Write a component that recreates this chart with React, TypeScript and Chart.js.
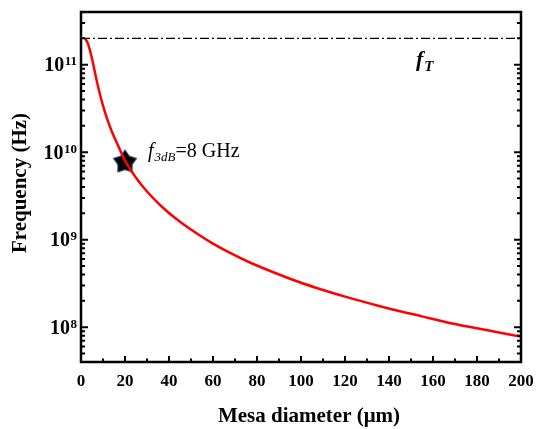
import React, { useEffect, useRef } from "react";
import { Chart, registerables } from "chart.js";
Chart.register(...registerables);

// Mesa diameter (µm) and 3 dB frequency (Hz)
const diameters = [1.8, 3, 4, 5, 6, 7, 8, 10, 12, 14, 17, 20, 25, 30, 37, 45, 53, 60, 68, 77, 90, 100, 110, 122, 135, 145, 155, 166, 180, 190, 200];
const frequencies = [2.0e11, 1.78e11, 1.48e11, 1.17e11, 9.0e10, 6.8e10, 5.3e10, 3.4e10, 2.35e10, 1.72e10, 1.17e10, 8.0e9, 5.1e9, 3.55e9, 2.35e9, 1.6e9, 1.16e9, 9.0e8, 7.0e8, 5.45e8, 4.0e8, 3.22e8, 2.66e8, 2.16e8, 1.76e8, 1.52e8, 1.33e8, 1.14e8, 9.7e7, 8.7e7, 7.8e7];
const fTLineX = [0, 200];
const fTValue = 2e11;
const starX = [20];
const starY = [7.9e9];
const xTickLabels = [0, 20, 40, 60, 80, 100, 120, 140, 160, 180, 200];
const xMinorTicks = [10, 30, 50, 70, 90, 110, 130, 150, 170, 190];
const yDecades = [8, 9, 10, 11];
const xRange = [0, 200];
const yRange = [4e7, 4e11];

const SERIF = '"Liberation Serif", "Times New Roman", serif';

function makeStar(r: number): HTMLCanvasElement {
  const size = Math.ceil(r * 2 + 4);
  const c = document.createElement("canvas");
  c.width = size;
  c.height = size;
  const ctx = c.getContext("2d")!;
  ctx.translate(size / 2, size / 2 + 1);
  ctx.beginPath();
  for (let i = 0; i < 10; i++) {
    const rad = i % 2 === 0 ? r : r * 0.62;
    const a = -Math.PI / 2 + (i * Math.PI) / 5;
    const px = rad * Math.cos(a);
    const py = rad * Math.sin(a);
    if (i === 0) ctx.moveTo(px, py);
    else ctx.lineTo(px, py);
  }
  ctx.closePath();
  ctx.fillStyle = "#000";
  ctx.fill();
  ctx.strokeStyle = "#2a4a6e";
  ctx.lineWidth = 1.2;
  ctx.stroke();
  return c;
}

const framePlugin = {
  id: "framePlugin",
  afterDraw(chart: any) {
    const { ctx, chartArea } = chart;
    const xs = chart.scales.x;
    const ys = chart.scales.y;
    const { left, right, top, bottom } = chartArea;
    ctx.save();
    ctx.strokeStyle = "#000";
    ctx.fillStyle = "#000";

    // ticks
    ctx.lineWidth = 2;
    ctx.beginPath();
    xTickLabels.forEach((v) => {
      const px = xs.getPixelForValue(v);
      ctx.moveTo(px, bottom);
      ctx.lineTo(px, bottom - 6);
    });
    xMinorTicks.forEach((v) => {
      const px = xs.getPixelForValue(v);
      ctx.moveTo(px, bottom);
      ctx.lineTo(px, bottom - 3.5);
    });
    for (let e = 7; e <= 11; e++) {
      for (let m = 1; m <= 9; m++) {
        const v = m * Math.pow(10, e);
        if (v < yRange[0] || v > yRange[1]) continue;
        const py = ys.getPixelForValue(v);
        const len = m === 1 ? 7 : 4;
        ctx.moveTo(left, py);
        ctx.lineTo(left + len, py);
        ctx.moveTo(right, py);
        ctx.lineTo(right - len, py);
      }
    }
    ctx.stroke();

    // frame
    ctx.lineWidth = 2.5;
    ctx.strokeRect(left, top, right - left, bottom - top);

    // x tick labels
    ctx.font = `bold 17px ${SERIF}`;
    ctx.textAlign = "center";
    ctx.textBaseline = "alphabetic";
    xTickLabels.forEach((v) => {
      ctx.fillText(String(v), xs.getPixelForValue(v), 386);
    });

    // y tick labels (10^n)
    yDecades.forEach((e) => {
      const py = ys.getPixelForValue(Math.pow(10, e));
      ctx.font = `bold 13px ${SERIF}`;
      const sup = String(e);
      const supW = ctx.measureText(sup).width;
      ctx.textAlign = "left";
      const endX = 77;
      ctx.fillText(sup, endX - supW, py + 0.5);
      ctx.font = `bold 20px ${SERIF}`;
      ctx.textAlign = "right";
      ctx.fillText("10", endX - supW - 0.5, py + 6.5);
    });

    // axis titles
    ctx.font = `bold 21px ${SERIF}`;
    ctx.textAlign = "center";
    ctx.fillText("Mesa diameter (\u03bcm)", 309, 422);
    ctx.save();
    ctx.translate(26, 183);
    ctx.rotate(-Math.PI / 2);
    ctx.fillText("Frequency (Hz)", 0, 0);
    ctx.restore();

    // annotations
    ctx.textAlign = "left";
    ctx.font = `bold italic 22px ${SERIF}`;
    ctx.fillText("f", 416, 66);
    const fw = ctx.measureText("f").width;
    ctx.font = `bold italic 15px ${SERIF}`;
    ctx.fillText("T", 416 + fw + 1, 71);

    let tx = 148;
    ctx.font = `italic 20px ${SERIF}`;
    ctx.fillText("f", tx, 157);
    tx += ctx.measureText("f").width + 1;
    ctx.font = `italic 13px ${SERIF}`;
    ctx.fillText("3dB", tx, 161);
    tx += ctx.measureText("3dB").width;
    ctx.font = `20px ${SERIF}`;
    ctx.fillText("=8 GHz", tx, 157);

    ctx.restore();
  },
};

export default function App() {
  const ref = useRef<HTMLCanvasElement | null>(null);
  useEffect(() => {
    if (!ref.current) return;
    const star = makeStar(12);
    const chart = new Chart(ref.current, {
      type: "line",
      data: {
        datasets: [
          {
            label: "fT",
            data: fTLineX.map((x) => ({ x, y: fTValue })),
            borderColor: "#000",
            borderWidth: 1.3,
            borderDash: [9, 3, 2, 3],
            pointRadius: 0,
            fill: false,
          },
          {
            label: "f3dB",
            data: diameters.map((x, i) => ({ x, y: frequencies[i] })),
            borderColor: "#ff0000",
            borderWidth: 2.5,
            pointRadius: 0,
            cubicInterpolationMode: "monotone",
            fill: false,
          },
          {
            label: "point",
            data: starX.map((x, i) => ({ x, y: starY[i] })),
            showLine: false,
            pointStyle: star as any,
            pointRadius: 12,
            borderWidth: 0,
            clip: false as any,
          },
        ],
      },
      options: {
        animation: false,
        responsive: false,
        events: [],
        layout: { padding: { left: 81, top: 8, right: 15, bottom: 67 } },
        plugins: { legend: { display: false }, tooltip: { enabled: false } },
        scales: {
          x: { type: "linear", min: xRange[0], max: xRange[1], display: false },
          y: { type: "logarithmic", min: yRange[0], max: yRange[1], display: false },
        },
      },
      plugins: [framePlugin],
    });
    return () => chart.destroy();
  }, []);
  return (
    <div style={{ position: "fixed", left: 0, top: 0, width: 536, height: 429, background: "#fff" }}>
      <canvas ref={ref} width={536} height={429} style={{ width: 536, height: 429, display: "block" }} />
    </div>
  );
}
